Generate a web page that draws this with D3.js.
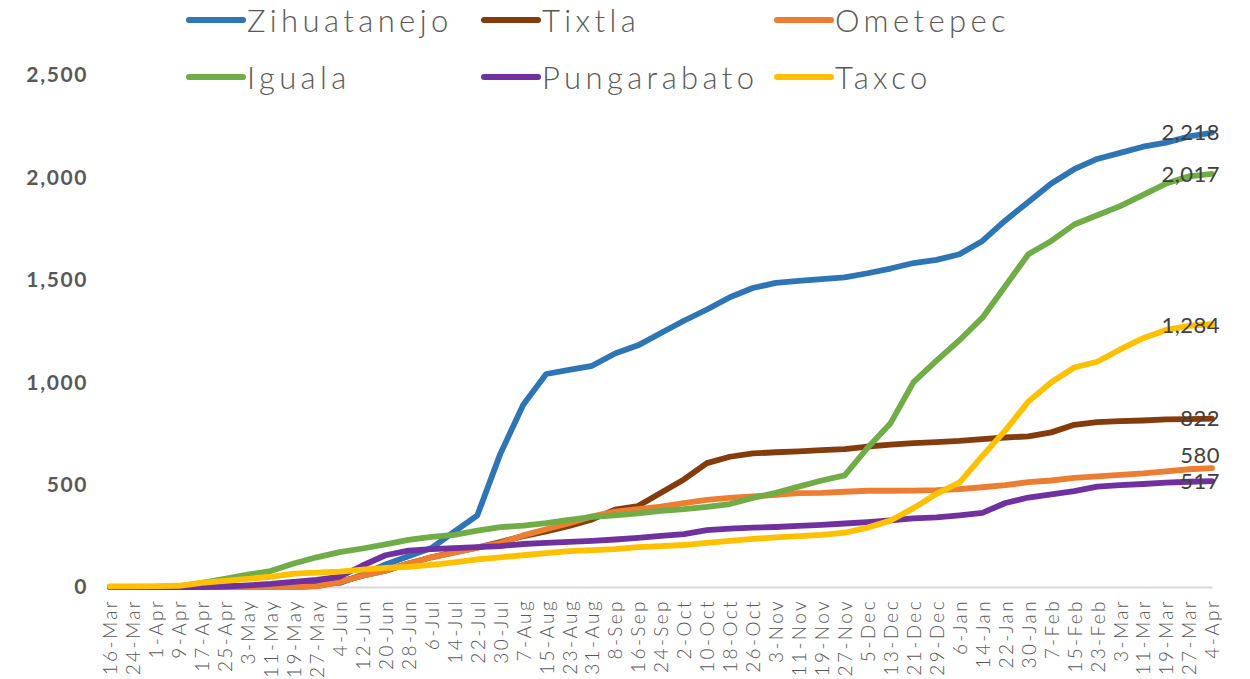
<!DOCTYPE html>
<html><head><meta charset="utf-8">
<script src="https://cdn.jsdelivr.net/npm/d3@7"></script>
<style>body{margin:0;background:#fff}svg{display:block}</style>
</head><body>
<svg id="chart" width="1250" height="679"></svg>
<script>
// ---- data ----
const startDate = "2020-03-16";   // first category; categories every 8 days
const stepDays = 8;
const seriesNames = ["Zihuatanejo", "Tixtla", "Ometepec", "Iguala", "Pungarabato", "Taxco"];
const seriesColors = ["#2E75B6", "#843C0C", "#ED7D31", "#70AD47", "#7030A0", "#FFC000"];
const yTicks = [0, 500, 1000, 1500, 2000, 2500];

const zihuatanejo = [0,0,1,2,3,4,5,6,8,12,20,60,110,150,190,270,350,650,890,1040,1060,1080,1140,1180,1240,1300,1355,1415,1460,1485,1495,1503,1512,1532,1555,1582,1597,1625,1690,1790,1880,1970,2040,2090,2120,2150,2170,2200,2218];
const tixtla      = [0,0,0,0,0,0,0,0,0,5,25,55,80,115,145,170,192,220,248,272,298,330,378,395,460,525,605,636,652,658,662,668,673,686,695,702,707,713,722,730,735,755,792,805,810,813,818,820,822];
const ometepec    = [0,0,0,0,0,0,0,0,0,3,24,55,80,115,145,168,192,215,252,282,312,345,368,380,392,410,425,435,442,450,458,460,465,470,470,471,473,478,487,497,512,520,533,540,548,555,565,575,580];
const iguala      = [0,0,1,3,20,40,60,78,115,145,170,188,208,230,245,255,275,292,300,312,328,342,350,360,372,380,391,405,435,460,490,520,545,680,800,1000,1105,1205,1315,1470,1625,1690,1770,1815,1860,1915,1970,2005,2017];
const pungarabato = [0,0,0,0,0,2,8,15,25,35,50,105,155,178,185,190,195,200,210,215,220,225,232,240,250,258,278,285,290,293,298,303,310,317,325,335,340,350,362,410,437,452,468,490,497,503,510,514,517];
const taxco       = [3,3,4,6,20,30,40,50,65,70,75,85,93,98,108,120,135,145,155,165,175,180,185,195,200,205,215,225,235,242,248,255,265,290,325,385,455,510,640,765,905,1000,1072,1100,1160,1215,1255,1275,1284];

const seriesValues = [zihuatanejo, tixtla, ometepec, iguala, pungarabato, taxco];

// ---- layout ----
const svg = d3.select("#chart");
const parse = d3.timeParse("%Y-%m-%d");
const t0 = parse(startDate);
const nPts = zihuatanejo.length;
const dates = d3.range(nPts).map(i => d3.timeDay.offset(t0, i * stepDays));

const x = d3.scaleTime().domain([dates[0], dates[nPts - 1]]).range([110, 1212]);
const y = d3.scaleLinear().domain([0, 2500]).range([587, 75]);

const fontMain = "Lato, 'Open Sans', sans-serif";
const grey = "#595959";

// x axis
const fmt = d3.timeFormat("%-d-%b");
const xAxis = svg.append("g").attr("transform", `translate(0,${y(0)})`)
  .call(d3.axisBottom(x).tickValues(dates).tickFormat(fmt).tickSize(0).tickSizeOuter(0));
xAxis.select(".domain").attr("stroke", "#D9D9D9").attr("stroke-width", 2);
xAxis.selectAll("text")
  .attr("transform", "rotate(-90)")
  .attr("text-anchor", "end")
  .attr("x", -12).attr("y", 0).attr("dy", "0.36em")
  .style("font-family", fontMain).style("font-size", "19px").style("font-weight", 300)
  .style("letter-spacing", "2.4px").attr("fill", grey);

// y labels
svg.append("g").selectAll("text").data(yTicks).join("text")
  .attr("x", 88).attr("y", d => y(d)).attr("dy", "0.35em")
  .attr("text-anchor", "end")
  .style("font-family", fontMain).style("font-weight", 700).style("font-size", "21px")
  .style("letter-spacing", "1.6px")
  .attr("fill", grey).text(d3.format(","));

// lines
const line = d3.line().x((d, i) => x(dates[i])).y(d => y(d));
svg.append("g").selectAll("path").data(seriesValues).join("path")
  .attr("d", d => line(d))
  .attr("fill", "none")
  .attr("stroke", (d, i) => seriesColors[i])
  .attr("stroke-width", 5.8)
  .attr("stroke-linejoin", "round")
  .attr("stroke-linecap", "round");

// end labels
const labelShift = [0, 0, -13, 0, 0, 1];
svg.append("g").selectAll("text").data(seriesValues).join("text")
  .attr("x", d => x(dates[nPts - 1]) + 8)
  .attr("y", (d, i) => y(d[nPts - 1]) + labelShift[i])
  .attr("dy", "0.35em")
  .attr("text-anchor", "end")
  .style("font-family", fontMain).style("font-size", "22px")
  .style("letter-spacing", "0.5px")
  .attr("fill", "#404040")
  .text(d => d3.format(",")(d[nPts - 1]));

// legend (3 columns x 2 rows)
const legCols = [187, 482, 775], legRows = [21, 78];
const leg = svg.append("g").selectAll("g").data(seriesNames).join("g")
  .attr("transform", (d, i) => `translate(${legCols[i % 3]},${legRows[Math.floor(i / 3)]})`);
leg.append("line").attr("x1", 2).attr("x2", 56).attr("y1", -1).attr("y2", -1)
  .attr("stroke", (d, i) => seriesColors[i]).attr("stroke-width", 6).attr("stroke-linecap", "round");
leg.append("text").attr("x", 60).attr("dy", "0.35em")
  .style("font-family", fontMain).style("font-size", "31px").style("font-weight", 300)
  .style("letter-spacing", "4.4px")
  .attr("fill", grey).text(d => d);
</script>
</body></html>
